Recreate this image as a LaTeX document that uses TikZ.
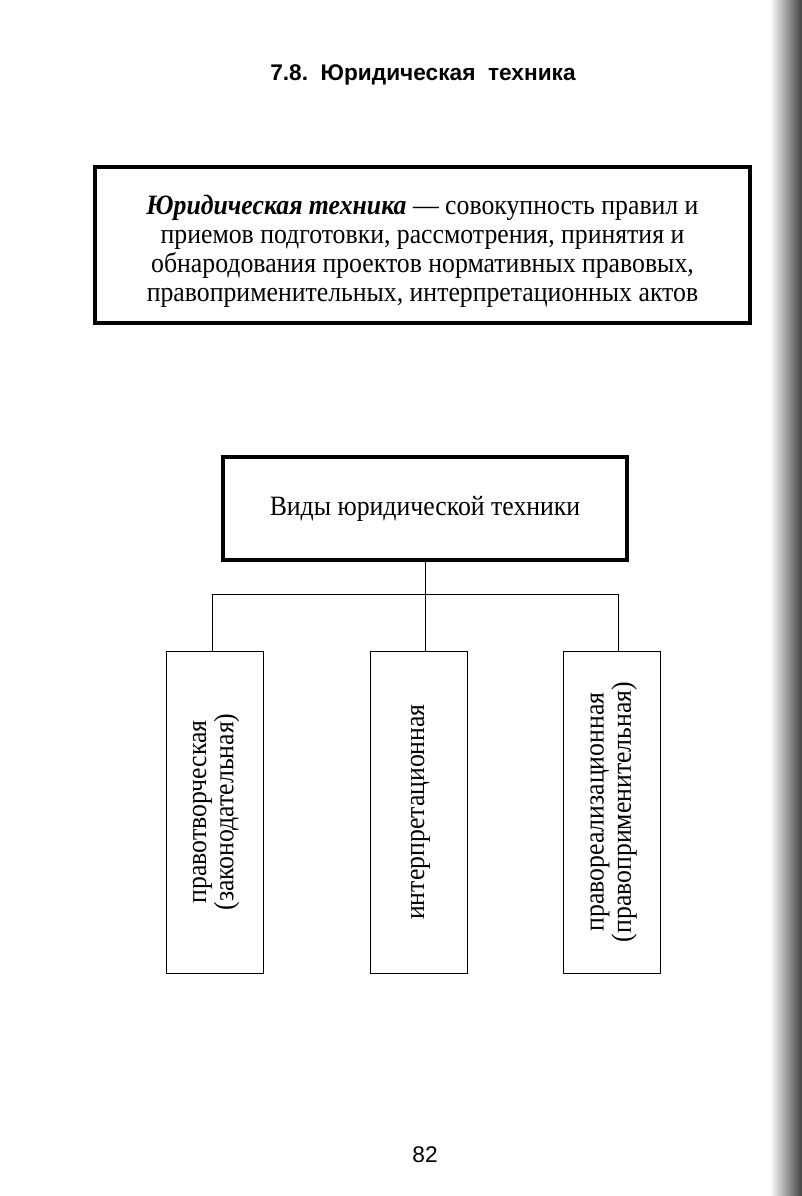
\documentclass[tikz,border=0pt]{standalone}
\usepackage{fontspec}
\setmainfont{Liberation Serif}[FakeStretch=0.92]
\newfontfamily\headfont{Liberation Sans}
\usepackage{tikz}
\usetikzlibrary{calc,positioning}
\tikzset{
  page/.style={x=0.75pt, y=-0.75pt},
  defbox/.style={draw, line width=3pt, minimum width=491pt, minimum height=117pt,
    align=center, inner sep=0pt, font=\fontsize{21}{21.75}\selectfont},
  kindbox/.style={draw, line width=3pt, minimum width=303pt, minimum height=77pt,
    inner sep=0pt, font=\fontsize{21}{21.75}\selectfont},
  vbox/.style={draw, line width=0.6pt, minimum width=72.75pt, minimum height=241.5pt,
    inner sep=0pt, font=\fontsize{21}{19.5}\selectfont},
  conn/.style={line width=0.6pt},
  chaptitle/.style={font=\headfont\bfseries\fontsize{17}{20}\selectfont, anchor=base},
  pagenum/.style={font=\headfont\fontsize{17}{20}\selectfont, anchor=base},
}
\newcommand{\vlines}[1]{\rotatebox{90}{\begin{tabular}{@{}c@{}}#1\end{tabular}}}

\begin{document}
\begin{tikzpicture}[page]
\useasboundingbox (0,0) rectangle (802,1196);
% binding shadow at the right edge
\shade[left color=white, right color=black!75] (770,0) rectangle (802,1196);

\node[chaptitle] (title) at (423,80) {7.8.\ \ Юридическая\ \ техника};

\node[defbox] (defn) at (422.5,245) {%
  \raisebox{-5.25pt}[\height][\depth]{\begin{tabular}{@{}c@{}}%
  \textbf{\textit{Юридическая техника}} — совокупность правил и\\
  приемов подготовки, рассмотрения, принятия и\\
  обнародования проектов нормативных правовых,\\
  правоприменительных, интерпретационных актов\end{tabular}}};

\node[kindbox] (kinds) at (425,508.5) {Виды юридической техники};

\node[vbox] (lbox) at (214.5,812) {\vlines{правотворческая\\(законодательная)}};
\node[vbox] (mbox) at (419,812) {\vlines{интерпретационная}};
\node[vbox] (rbox) at (612,812) {\vlines{правореализационная\\(правоприменительная)}};

\coordinate (bar) at ($(kinds.south)+(0,33)$);
\draw[conn] (kinds.south) -- (kinds.south |- mbox.north);
\draw[conn] ($(lbox.north)+(-2,0)$) |- (bar) -| ($(rbox.north)+(6,0)$);

\node[pagenum] (pnum) at (425,1162) {82};
\end{tikzpicture}
\end{document}
